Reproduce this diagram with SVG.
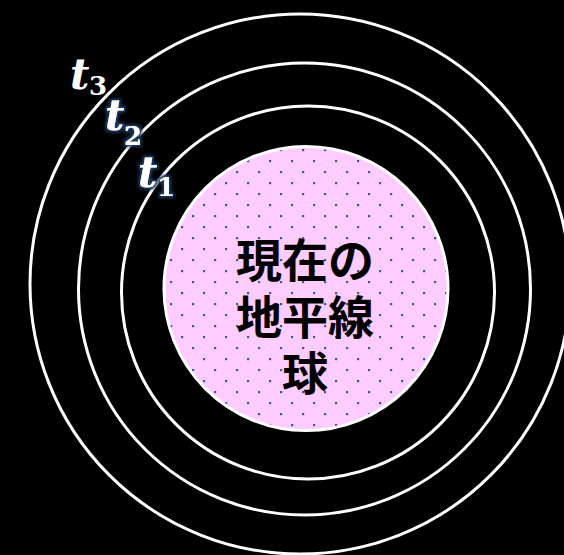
<svg xmlns="http://www.w3.org/2000/svg" width="564" height="555" viewBox="0 0 564 555">
  <style>
    .ring { fill: none; stroke: #ffffff; stroke-width: 3; }
    .tl { font-family: "DejaVu Serif", "Liberation Serif", serif; font-weight: bold; fill: #ffffff; }
    .main { font-size: 42px; font-style: italic; }
    .sub { font-size: 26px; font-style: normal; }
    .jp { font-family: "Noto Sans CJK JP", "Noto Sans CJK SC", sans-serif; font-weight: bold; font-size: 46px; fill: #000000; text-anchor: middle; }
  </style>
  <defs>
    <pattern id="dots" patternUnits="userSpaceOnUse" x="0" y="0" width="22" height="22">
      <rect width="22" height="22" fill="#ffccff"/>
      <rect x="16" y="17" width="2.2" height="2.2" fill="#3b5b8c"/>
      <rect x="5" y="6" width="2.2" height="2.2" fill="#3b5b8c"/>
    </pattern>
    <filter id="glow" x="-30%" y="-30%" width="160%" height="160%">
      <feMorphology in="SourceAlpha" operator="dilate" radius="1.5" result="d"/>
      <feGaussianBlur in="d" stdDeviation="1.5" result="b"/>
      <feFlood flood-color="#1d3a5c"/>
      <feComposite in2="b" operator="in" result="g"/>
      <feMerge>
        <feMergeNode in="g"/>
        <feMergeNode in="SourceGraphic"/>
      </feMerge>
    </filter>
  </defs>
  <rect width="564" height="555" fill="#000000"/>
  <g id="ring-t3">
    <circle class="ring" cx="300" cy="284" r="270"/>
  </g>
  <g id="ring-t2">
    <circle class="ring" cx="304.5" cy="289" r="226"/>
  </g>
  <g id="ring-t1">
    <circle class="ring" cx="308" cy="292.5" r="186.5"/>
  </g>
  <g id="horizon-sphere">
    <circle cx="306" cy="288.5" r="142" fill="url(#dots)" stroke="#ffffff" stroke-width="3"/>
    <text class="jp"><tspan x="305" y="277">現在の</tspan><tspan x="305" y="334">地平線</tspan><tspan x="305" y="390">球</tspan></text>
  </g>
  <g id="label-t3">
    <text class="tl"><tspan class="main" x="70" y="89">t</tspan><tspan class="sub" x="89" y="95">3</tspan></text>
  </g>
  <g id="label-t2" filter="url(#glow)">
    <text class="tl"><tspan class="main" x="105" y="130">t</tspan><tspan class="sub" x="124" y="145">2</tspan></text>
  </g>
  <g id="label-t1" filter="url(#glow)">
    <text class="tl"><tspan class="main" x="138" y="187">t</tspan><tspan class="sub" x="157" y="196">1</tspan></text>
  </g>
</svg>
